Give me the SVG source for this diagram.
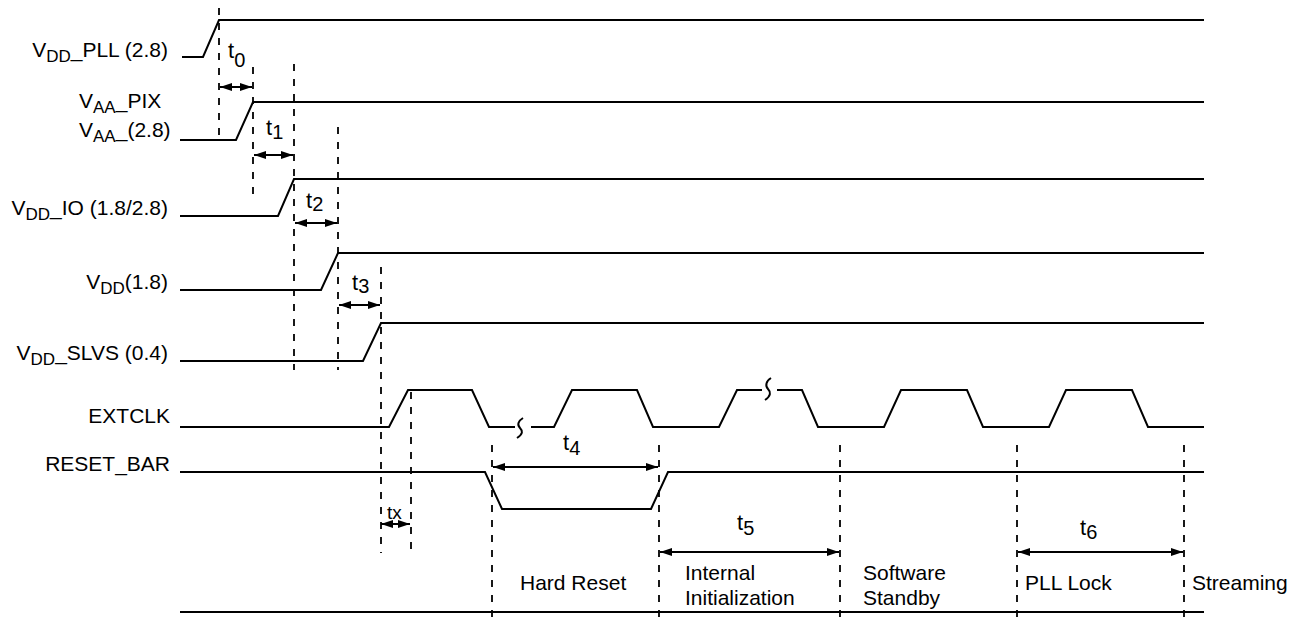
<svg xmlns="http://www.w3.org/2000/svg" width="1301" height="619" viewBox="0 0 1301 619">
<style>
.sig{fill:none;stroke:#000;stroke-width:2;stroke-linejoin:miter}
.dash{fill:none;stroke:#000;stroke-width:1.8;stroke-dasharray:7,8}
.arr{fill:none;stroke:#000;stroke-width:2;marker-start:url(#ah);marker-end:url(#ah)}
text{font-family:"Liberation Sans",Arial,sans-serif;font-size:21px;fill:#000}
.lbl{text-anchor:end}
.sub{font-size:17px}
.t{font-size:22px}
.ts{font-size:20px}
</style>
<defs>
<marker id="ah" viewBox="0 0 12 8" refX="12" refY="4" markerWidth="12" markerHeight="8" markerUnits="userSpaceOnUse" orient="auto-start-reverse">
<path d="M0,0 L12,4 L0,8 z" fill="#000"/>
</marker>
</defs>
<rect width="1301" height="619" fill="#fff"/>
<g id="labels">
<text class="lbl" x="168" y="57">V<tspan class="sub" dy="5">DD</tspan><tspan dy="-5">_PLL (2.8)</tspan></text>
<text x="79" y="108">V<tspan class="sub" dy="5">AA</tspan><tspan dy="-5">_PIX</tspan></text>
<text x="79" y="137">V<tspan class="sub" dy="5">AA</tspan><tspan dy="-5">_(2.8)</tspan></text>
<text class="lbl" x="168" y="215">V<tspan class="sub" dy="5">DD</tspan><tspan dy="-5">_IO (1.8/2.8)</tspan></text>
<text class="lbl" x="168" y="289">V<tspan class="sub" dy="5">DD</tspan><tspan dy="-5">(1.8)</tspan></text>
<text class="lbl" x="168" y="360">V<tspan class="sub" dy="5">DD</tspan><tspan dy="-5">_SLVS (0.4)</tspan></text>
<text class="lbl" x="170" y="423">EXTCLK</text>
<text class="lbl" x="170" y="471">RESET_BAR</text>
</g>
<g id="signals">
<path id="vdd_pll" class="sig" d="M182,57 H203 L219,20 H1204"/>
<path id="vaa" class="sig" d="M180,140 H236 L253,102 H1204"/>
<path id="vdd_io" class="sig" d="M180,216 H278 L294,179 H1204"/>
<path id="vdd" class="sig" d="M180,290 H321 L338,253 H1204"/>
<path id="vdd_slvs" class="sig" d="M180,361 H363 L381,323 H1204"/>
<g id="extclk">
<path class="sig" d="M180,427 H389 L408,390 H472 L489,427 H515"/>
<path class="sig" stroke-width="1.6" d="M523,418 C518,421 517,425 520,428 C523,431 523,434 517,438"/>
<path class="sig" d="M531,427 H554 L572,390 H637 L653,427 H719 L737,390 H762"/>
<path class="sig" stroke-width="1.6" d="M771,378 C766,381 765,386 768,389 C771,392 771,396 765,400"/>
<path class="sig" d="M777,390 H802 L818,427 H884 L901,390 H967 L983,427 H1049 L1066,390 H1132 L1148,427 H1204"/>
</g>
<path id="reset_bar" class="sig" d="M180,472 H485 L502,509 H651 L668,472 H1204"/>
<path id="baseline" class="sig" d="M180,612 H1204"/>
</g>
<g id="connectors">
<path class="dash" d="M219,8 V138"/>
<path class="dash" d="M253,67 V195"/>
<path class="dash" d="M294,64 V370"/>
<path class="dash" d="M338,127 V370"/>
<path class="dash" d="M381,267 V553"/>
<path class="dash" d="M411,392 V553"/>
<path class="dash" d="M492,445 V619"/>
<path class="dash" d="M659,445 V619"/>
<path class="dash" d="M840,445 V619"/>
<path class="dash" d="M1017,445 V619"/>
<path class="dash" d="M1184,445 V619"/>
<path class="arr" d="M220,87 H252"/>
<path class="arr" d="M254,155 H293"/>
<path class="arr" d="M295,223 H337"/>
<path class="arr" d="M339,305 H380"/>
<path class="arr" d="M381,524 H410"/>
<path class="arr" d="M493,467 H658"/>
<path class="arr" d="M660,552 H839"/>
<path class="arr" d="M1018,552 H1183"/>
</g>
<g id="timing-labels">
<text class="t" x="228" y="58">t<tspan class="ts" dy="9">0</tspan></text>
<text class="t" x="266" y="135">t<tspan class="ts" dy="4">1</tspan></text>
<text class="t" x="306" y="208">t<tspan class="ts" dy="3">2</tspan></text>
<text class="t" x="352" y="290">t<tspan class="ts" dy="3">3</tspan></text>
<text x="387" y="519" style="font-size:19px">tx</text>
<text class="t" x="563" y="450">t<tspan class="ts" dy="5">4</tspan></text>
<text class="t" x="737" y="530">t<tspan class="ts" dy="5">5</tspan></text>
<text class="t" x="1080" y="535">t<tspan class="ts" dy="4">6</tspan></text>
</g>
<g id="states">
<text x="520" y="590">Hard Reset</text>
<text x="685" y="580">Internal</text>
<text x="685" y="605">Initialization</text>
<text x="863" y="580">Software</text>
<text x="863" y="605">Standby</text>
<text x="1025" y="590">PLL Lock</text>
<text x="1192" y="590">Streaming</text>
</g>
</svg>
